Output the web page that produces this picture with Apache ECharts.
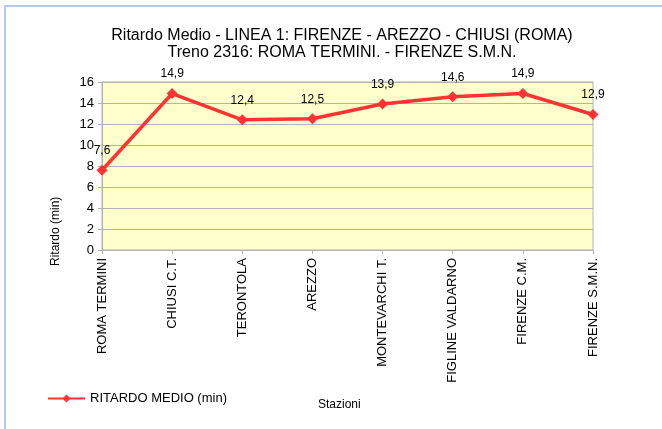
<!DOCTYPE html>
<html>
<head>
<meta charset="utf-8">
<script src="https://cdn.jsdelivr.net/npm/echarts@6/dist/echarts.min.js"></script>
<style>
  html, body { margin: 0; padding: 0; background: #fff; }
  #frame {
    position: absolute; left: 4px; top: 5px; width: 700px; height: 460px;
    border-top: 2px solid #b7c9e6; border-left: 2px solid #b7c9e6;
  }
  #chart { position: absolute; left: 0; top: 0; width: 662px; height: 429px; }
</style>
</head>
<body>
<div id="frame"></div>
<div id="chart"></div>
<script>
// stazioni e ritardi medi (min)
const stazioni = ['ROMA TERMINI', 'CHIUSI C.T.', 'TERONTOLA', 'AREZZO', 'MONTEVARCHI T.', 'FIGLINE VALDARNO', 'FIRENZE C.M.', 'FIRENZE S.M.N.'];
const ritardoMedio = [7.6, 14.9, 12.4, 12.5, 13.9, 14.6, 14.9, 12.9];
const yTicks = { min: 0, max: 16, interval: 2 };

const font = 'Liberation Sans, Arial, sans-serif';
const chart = echarts.init(document.getElementById('chart'), null, { renderer: 'canvas' });

const option = {
  backgroundColor: 'transparent',
  textStyle: { fontFamily: font },
  title: {
    text: 'Ritardo Medio - LINEA 1: FIRENZE - AREZZO - CHIUSI (ROMA)\nTreno 2316: ROMA TERMINI. - FIRENZE S.M.N.',
    left: 337, top: 22, textAlign: 'center',
    textStyle: { fontFamily: font, fontSize: 16, fontWeight: 'normal', color: '#000', lineHeight: 17 }
  },
  legend: {
    left: 42, top: 387,
    itemWidth: 37, itemHeight: 10, itemGap: 6,
    textStyle: { fontFamily: font, fontSize: 13, color: '#000' },
    data: ['RITARDO MEDIO (min)']
  },
  grid: { left: 102, right: 69, top: 82, bottom: 179, show: true, backgroundColor: '#ffffcc', borderColor: '#b3b3b3', borderWidth: 1 },
  xAxis: {
    type: 'category',
    data: stazioni,
    boundaryGap: false,
    axisLine: { lineStyle: { color: '#b3b3b3' } },
    axisTick: { show: true, alignWithLabel: true, length: 4, lineStyle: { color: '#b3b3b3' } },
    axisLabel: { rotate: 90, interval: 0, fontSize: 13, color: '#000', margin: 8, fontFamily: font },
    splitLine: { show: false }
  },
  yAxis: {
    type: 'value',
    min: yTicks.min, max: yTicks.max, interval: yTicks.interval,
    axisLine: { show: true, lineStyle: { color: '#b3b3b3' } },
    axisTick: { show: true, length: 4, lineStyle: { color: '#b3b3b3' } },
    axisLabel: { fontSize: 13, color: '#000', margin: 8, fontFamily: font },
    splitLine: { show: true, lineStyle: { color: '#b3b3b3' } }
  },
  graphic: [
    { type: 'text', left: 318, top: 399, style: { text: 'Stazioni', font: '12px ' + font, fill: '#000' } },
    { type: 'text', x: 50, y: 266, rotation: Math.PI / 2, style: { text: 'Ritardo (min)', font: '12px ' + font, fill: '#000' } }
  ],
  series: [{
    name: 'RITARDO MEDIO (min)',
    type: 'line',
    data: ritardoMedio,
    symbol: 'diamond',
    symbolSize: 11,
    lineStyle: { color: '#ff3333', width: 3.5 },
    itemStyle: { color: '#ff3333' },
    label: {
      show: true, position: 'top', distance: 8, fontSize: 12, color: '#000', fontFamily: font,
      formatter: p => String(p.value).replace('.', ',')
    }
  }]
};
chart.setOption(option);
</script>
</body>
</html>
